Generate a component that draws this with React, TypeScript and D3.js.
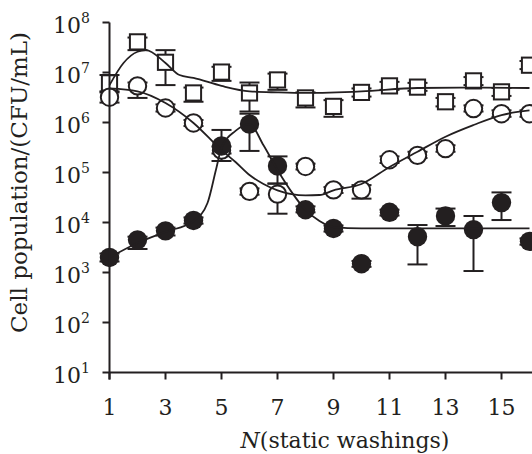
import React from "react";
import * as d3 from "d3";

const washings = [1, 2, 3, 4, 5, 6, 7, 8, 9, 10, 11, 12, 13, 14, 15, 16];
const xTicks = [1, 3, 5, 7, 9, 11, 13, 15];
const yTickExps = [1, 2, 3, 4, 5, 6, 7, 8];

// Open squares
const squares = [6.2e6, 4.1e7, 1.6e7, 3.9e6, 1.02e7, 3.9e6, 7.1e6, 3.1e6, 2.1e6, 4.0e6, 5.4e6, 5.1e6, 2.6e6, 6.8e6, 4.1e6, 1.4e7];
const squaresErr = [
  [4.0e6, 8.9e6], [2.8e7, 5.0e7], [5.6e6, 2.8e7], [2.6e6, 5.0e6], [6.8e6, 1.3e7], [1.66e6, 6.3e6],
  [4.5e6, 9.5e6], [2.0e6, 4.0e6], [1.3e6, 2.8e6], [3.3e6, 4.8e6], [4.5e6, 6.5e6], [4.3e6, 6.2e6],
  [2.1e6, 3.1e6], [5.6e6, 8.1e6], [3.4e6, 4.9e6], [1.17e7, 1.7e7],
];
const squaresFitX = [1, 1.5, 2, 2.3, 3, 3.5, 4, 5, 6, 7, 8, 10, 12, 14, 16];
const squaresFit = [5.6e6, 1.55e7, 2.6e7, 2.8e7, 1.55e7, 8.9e6, 7.8e6, 5.4e6, 4.2e6, 4.0e6, 3.9e6, 4.2e6, 4.9e6, 5.0e6, 4.9e6];

// Open circles
const circles = [3.2e6, 5.4e6, 1.95e6, 9.8e5, 2.8e5, 4.2e4, 3.7e4, 1.32e5, 4.5e4, 4.5e4, 1.8e5, 2.2e5, 3.0e5, 1.9e6, 1.5e6, 1.5e6];
const circlesErr = [
  [2.5e6, 4.2e6], [3.1e6, 6.3e6], [1.66e6, 2.3e6], [8.5e5, 1.12e6], [2.4e5, 3.3e5], [3.6e4, 4.8e4],
  [1.5e4, 6.0e4], [1.15e5, 1.5e5], [3.9e4, 5.1e4], [3.0e4, 5.6e4], [1.55e5, 2.1e5], [1.95e5, 2.6e5],
  [2.6e5, 3.5e5], [1.66e6, 2.2e6], [1.3e6, 1.75e6], [1.3e6, 1.75e6],
];
const circlesFitX = [1, 2, 3, 4, 5, 5.5, 6, 6.5, 7, 7.5, 8, 8.5, 9, 10, 11, 12, 13, 14, 15, 16];
const circlesFit = [4.8e6, 4.2e6, 2.45e6, 9.8e5, 2.8e5, 1.62e5, 8.9e4, 5.9e4, 4.4e4, 3.7e4, 3.5e4, 3.55e4, 4.4e4, 5.9e4, 1.29e5, 2.6e5, 5.2e5, 8.9e5, 1.41e6, 1.74e6];

// Filled circles
const filled = [2.0e3, 4.5e3, 6.8e3, 1.1e4, 3.4e5, 9.3e5, 1.35e5, 1.8e4, 7.6e3, 1.5e3, 1.6e4, 5.2e3, 1.35e4, 7.2e3, 2.5e4, 4.2e3];
const filledErr = [
  [1.66e3, 2.4e3], [2.95e3, 5.2e3], [5.5e3, 7.9e3], [9.5e3, 1.26e4], [1.7e5, 7.1e5], [2.7e5, 1.5e6],
  [6.0e4, 2.1e5], [1.6e4, 2.1e4], [6.6e3, 8.7e3], [1.3e3, 1.7e3], [1.38e4, 1.8e4], [1.45e3, 8.9e3],
  [8.5e3, 1.9e4], [1.07e3, 1.35e4], [1.12e4, 4.0e4], [3.6e3, 4.8e3],
];
const filledFitX = [1, 2, 3, 4, 4.5, 4.8, 5, 5.5, 6, 6.5, 7, 7.5, 8, 8.5, 9, 10, 16];
const filledFit = [2.0e3, 3.9e3, 6.5e3, 1.07e4, 2.45e4, 1.12e5, 3.1e5, 6.8e5, 9.3e5, 3.5e5, 1.12e5, 4.1e4, 1.78e4, 1.07e4, 8.1e3, 7.6e3, 7.6e3];

const INK = "#231f20";
const FONT = "'DejaVu Serif', 'Liberation Serif', serif";

export default function App() {
  const W = 532;
  const H = 454;
  const x = d3.scaleLinear().domain([1, 16]).range([109.5, 529.5]);
  const y = d3.scaleLog().domain([10, 1e8]).range([372.5, 22.5]);
  const line = (xsArr: number[], ysArr: number[]) =>
    d3
      .line<number>()
      .x((_, i) => x(xsArr[i]))
      .y((v) => y(v))
      .curve(d3.curveMonotoneX)(ysArr) || "";

  const capW = 10;
  const errBars = (vals: number[][], key: string) =>
    vals.map(([lo, hi], i) => {
      const cx = x(washings[i]);
      return (
        <g key={key + i}>
          <line x1={cx} x2={cx} y1={y(lo)} y2={y(hi)} />
          <line x1={cx - capW} x2={cx + capW} y1={y(lo)} y2={y(lo)} />
          <line x1={cx - capW} x2={cx + capW} y1={y(hi)} y2={y(hi)} />
        </g>
      );
    });

  return (
    <svg width={W} height={H} style={{ position: "absolute", left: 0, top: 0, background: "#fff" }}>
      {/* error bars */}
      <g stroke={INK} strokeWidth={2}>
        {errBars(squaresErr, "se")}
        {errBars(circlesErr, "ce")}
        {errBars(filledErr, "fe")}
      </g>
      {/* markers */}
      <g fill="#fff" stroke={INK} strokeWidth={2}>
        {squares.map((v, i) => (
          <rect key={"s" + i} x={x(washings[i]) - 7.6} y={y(v) - 7.6} width={15.2} height={15.2} />
        ))}
        {circles.map((v, i) => (
          <circle key={"c" + i} cx={x(washings[i])} cy={y(v)} r={8.7} />
        ))}
      </g>
      <g fill={INK}>
        {filled.map((v, i) => (
          <circle key={"f" + i} cx={x(washings[i])} cy={y(v)} r={9.7} />
        ))}
      </g>
      {/* fitted curves */}
      <g fill="none" stroke={INK} strokeWidth={1.8}>
        <path d={line(squaresFitX, squaresFit)} />
        <path d={line(circlesFitX, circlesFit)} />
        <path d={line(filledFitX, filledFit)} />
      </g>
      {/* axes */}
      <g stroke={INK} strokeWidth={2} fill="none">
        <line x1={x(1)} x2={x(1)} y1={y(1e8)} y2={y(10) + 7} />
        <line x1={x(1)} x2={W} y1={y(10)} y2={y(10)} />
        {yTickExps.map((e) => (
          <line key={"yt" + e} x1={x(1) - 7} x2={x(1)} y1={y(Math.pow(10, e))} y2={y(Math.pow(10, e))} />
        ))}
        {xTicks.map((t) => (
          <line key={"xt" + t} x1={x(t)} x2={x(t)} y1={y(10)} y2={y(10) + 7} />
        ))}
      </g>
      <g fill={INK} fontFamily={FONT}>
        {yTickExps.map((e) => (
          <text key={"yl" + e} x={90} y={y(Math.pow(10, e)) + 10} textAnchor="end" fontSize={22}>
            10
            <tspan fontSize={14} dy={-10}>{e}</tspan>
          </text>
        ))}
        {xTicks.map((t) => (
          <text key={"xl" + t} x={x(t)} y={415} textAnchor="middle" fontSize={22}>
            {t}
          </text>
        ))}
        <text x={345} y={448} textAnchor="middle" fontSize={22}>
          <tspan fontStyle="italic">N</tspan>(static washings)
        </text>
        <text transform="translate(27,182.5) rotate(-90)" textAnchor="middle" fontSize={23}>
          Cell population/(CFU/mL)
        </text>
      </g>
    </svg>
  );
}
